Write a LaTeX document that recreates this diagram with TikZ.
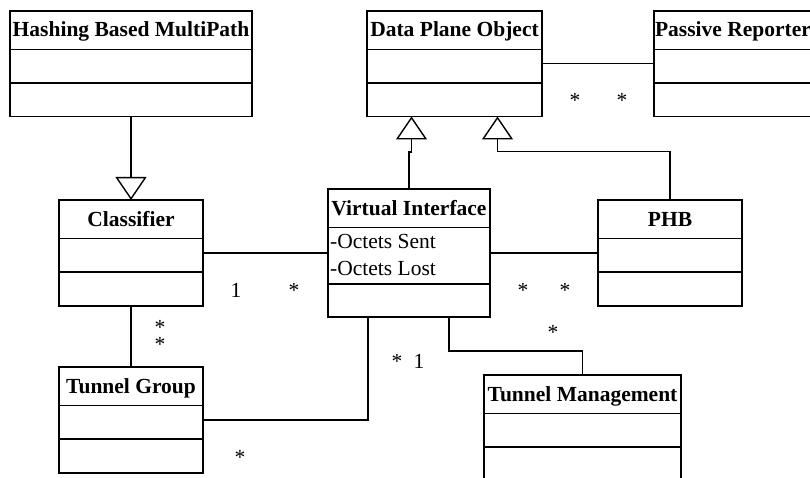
\documentclass[tikz,border=0pt]{standalone}
\usepackage{fontspec}
\setmainfont{Liberation Serif}
\usetikzlibrary{calc,arrows.meta}

\tikzset{
  classbox/.style={draw, line width=1.8pt, inner sep=0pt, outer sep=0pt},
  classline/.style={line width=1.8pt},
  classtitle/.style={font=\fontsize{21.5}{25}\selectfont\bfseries, inner sep=0pt},
  attr/.style={font=\fontsize{21.5}{25}\selectfont, inner sep=0pt},
  mult/.style={font=\fontsize{21.5}{25}\selectfont, inner sep=0pt, anchor=base},
  assoc/.style={line width=1.4pt},
  inherit/.style={line width=1.4pt, -{Triangle[open, length=23pt, width=31pt]}}
}

% [second separator]{name}{left}{top}{width}{height}{title}
\newcommand{\umlclass}[7][72]{%
  \node[classbox, minimum width=#5pt, minimum height=#6pt, anchor=north west] (#2) at (#3,#4) {};
  \node[classtitle, anchor=base] (#2-title) at ($(#2.north)+(0,26)$) {#7};
  \draw[classline] ($(#2.north west)+(0,38.5)$) -- ($(#2.north east)+(0,38.5)$);
  \draw[classline] ($(#2.north west)+(0,#1)$) -- ($(#2.north east)+(0,#1)$);
}

\begin{document}
\begin{tikzpicture}[x=1pt, y=-1pt]
  \useasboundingbox (0,0) rectangle (810,478);

  % classes
  \umlclass{hbm}{10}{11}{242}{105.5}{Hashing Based MultiPath}
  \umlclass{dpo}{367}{11}{175}{105.5}{Data Plane Object}
  \umlclass{pr}{654}{11}{158}{105.5}{Passive Reporter}
  \umlclass{clf}{59}{200}{144}{106}{Classifier}
  \umlclass[95]{vi}{328}{189}{162}{128}{Virtual Interface}
  \umlclass{phb}{598}{200}{144}{106}{PHB}
  \umlclass{tg}{59}{367}{144}{106}{Tunnel Group}
  \umlclass{tm}{484}{375}{197}{110}{Tunnel Management}

  % attributes
  \node[attr, anchor=base west] (vi-sent) at ($(vi.north west)+(2,59)$) {-Octets Sent};
  \node[attr, anchor=base west] (vi-lost) at ($(vi.north west)+(2,86)$) {-Octets Lost};

  % generalisation
  \draw[inherit] (hbm.south) -- (clf.north);
  \draw[inherit] (vi.north) -- ++(0,-37) -| ($(dpo.south)+(-43,0)$);
  \draw[inherit] (phb.north) |- ($(dpo.south)+(43,35)$) -- ($(dpo.south)+(43,0)$);

  % associations
  \draw[assoc] (dpo.east) -- (pr.west);
  \draw[assoc] (clf.east) -- (vi.west);
  \draw[assoc] (vi.east) -- (phb.west);
  \draw[assoc] (clf.south) -- (tg.north);
  \draw[assoc] (tg.east) -| ($(vi.south)+(-41,0)$);
  \draw[assoc] ($(vi.south)+(40,0)$) -- ++(0,34) -| (tm.north);

  % multiplicities
  \node[mult] (m-dpo) at (575,108) {*};
  \node[mult] (m-pr) at (622,108) {*};
  \node[mult] (m-clf) at (236,297) {1};
  \node[mult] (m-vi1) at (294,297) {*};
  \node[mult] (m-vi2) at (523,297) {*};
  \node[mult] (m-phb) at (565,297) {*};
  \node[mult, align=center, font=\fontsize{21.5}{16.5}\selectfont] (m-clf-tg) at (160,351) {*\\*};
  \node[mult] (m-vi3) at (397,368) {*};
  \node[mult] (m-vi4) at (419,368) {1};
  \node[mult] (m-tg2) at (240,464) {*};
  \node[mult] (m-tm) at (553,339) {*};
\end{tikzpicture}
\end{document}
